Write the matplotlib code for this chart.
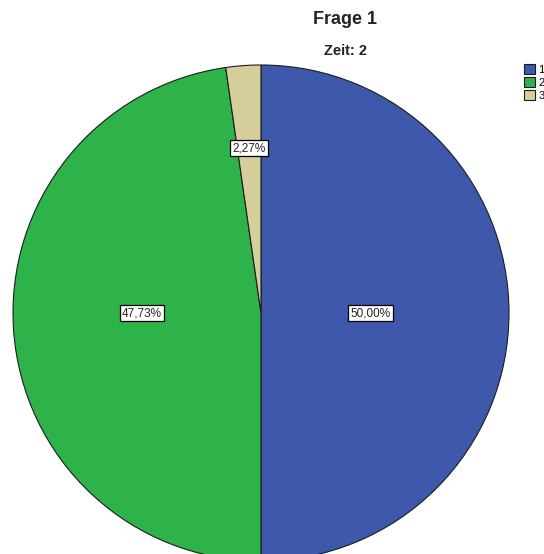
import matplotlib.pyplot as plt
import numpy as np

# Frage 1, Zeit 2 - Anteile der Antworten
categories = ["1", "2", "3"]
shares = [50.00, 47.73, 2.27]
colors = ["#3E58AC", "#2EB34A", "#D6CF9C"]
# Lage der Beschriftungen relativ zum Mittelpunkt (in Radien)
label_pos = [(0.44, 0.0), (-0.48, 0.0), (-0.048, 0.665)]

W, H = 544, 554
cx, cy, r = 261, 313, 248  # Mittelpunkt und Radius in Pixeln

fig = plt.figure(figsize=(W / 100, H / 100), dpi=100)
ax = fig.add_axes([0, 0, 1, 1])

wedges, _ = ax.pie(shares, colors=colors, startangle=90, counterclock=False,
                   radius=1, wedgeprops=dict(edgecolor="#1c1c1c", linewidth=0.8))

# pie() setzt eigene Grenzen, daher danach festlegen
ax.set_aspect("auto")
ax.set_xlim(-cx / r, (W - cx) / r)
ax.set_ylim((cy - H) / r, cy / r)
ax.axis("off")

# Prozentwerte in weißen Kästchen
for val, (lx, ly) in zip(shares, label_pos):
    txt = f"{val:.2f}%".replace(".", ",")
    ax.text(lx, ly, txt, ha="center", va="center",
            fontsize=8.5, family="Liberation Sans", color="#222222",
            bbox=dict(boxstyle="square,pad=0.2", fc="white", ec="black", lw=0.9))

fig.text(345 / W, 1 - 20 / H, "Frage 1", ha="center", va="center",
         fontsize=13, fontweight="bold", family="Liberation Sans", color="#222222")
fig.text(346 / W, 1 - 51 / H, "Zeit: 2", ha="center", va="center",
         fontsize=10.5, fontweight="bold", family="Liberation Sans", color="#222222")

fig.legend(wedges, categories, loc="upper left", bbox_to_anchor=(524 / W, 1 - 64 / H),
           frameon=False, handlelength=1.0, handleheight=1.0,
           labelspacing=0.2, handletextpad=0.3, borderpad=0, borderaxespad=0,
           prop={"family": "Liberation Sans", "size": 8})

fig.savefig("out.png", dpi=100, facecolor="white")
